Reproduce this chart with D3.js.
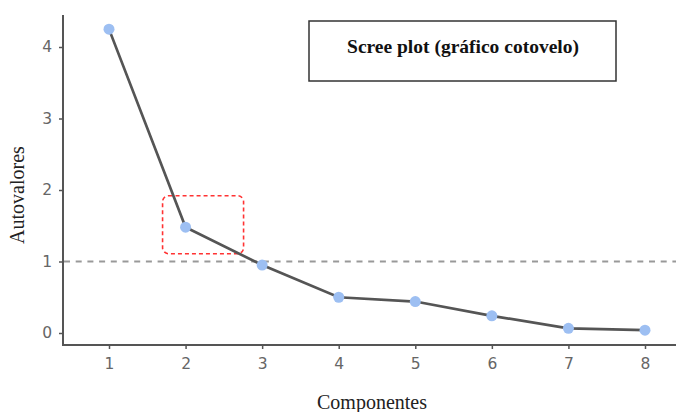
<!DOCTYPE html>
<html>
<head>
<meta charset="utf-8">
<script src="https://cdn.jsdelivr.net/npm/d3@7"></script>
<style>
  body { margin: 0; background: #fff; }
</style>
</head>
<body>
<script>
// scree plot data
var componentes = [1, 2, 3, 4, 5, 6, 7, 8];
var autovalores = [4.25, 1.48, 0.95, 0.50, 0.44, 0.24, 0.065, 0.04];
var yTicks = [0, 1, 2, 3, 4];
var kaiserCut = 1;
var titulo = "Scree plot (gráfico cotovelo)";

var w = 676,
    h = 412;

var svg = d3.select("body").append("svg")
    .attr("width", w)
    .attr("height", h);

var x = d3.scaleLinear().domain([1, 8]).range([109, 645]);
var y = d3.scaleLinear().domain([0, 4]).range([333, 47]);

var axisColor = "#555";

// axis lines
svg.append("line")
    .attr("x1", 63).attr("x2", 63)
    .attr("y1", 15).attr("y2", 345)
    .attr("stroke", axisColor).attr("stroke-width", 2);
svg.append("line")
    .attr("x1", 62).attr("x2", w)
    .attr("y1", 345).attr("y2", 345)
    .attr("stroke", axisColor).attr("stroke-width", 2);

// y axis
var yAxis = svg.append("g")
    .attr("transform", "translate(63,0)")
    .call(d3.axisLeft(y).tickValues(yTicks).tickSize(4).tickPadding(7).tickFormat(d3.format("d")));
yAxis.select(".domain").remove();

// x axis
var xAxis = svg.append("g")
    .attr("transform", "translate(0,345)")
    .call(d3.axisBottom(x).tickValues(componentes).tickSize(4).tickPadding(9).tickFormat(d3.format("d")));
xAxis.select(".domain").remove();

svg.selectAll(".tick line").attr("stroke", axisColor).attr("stroke-width", 1.5);
svg.selectAll(".tick text")
    .attr("fill", "#666")
    .style("font-family", "DejaVu Sans, sans-serif")
    .style("font-size", "15.5px");

// horizontal cut line
svg.append("line")
    .attr("x1", 64).attr("x2", w)
    .attr("y1", y(kaiserCut)).attr("y2", y(kaiserCut))
    .attr("stroke", "#999")
    .attr("stroke-width", 2)
    .attr("stroke-dasharray", "6,5.7");

// highlight box around the elbow
svg.append("rect")
    .attr("x", x(2) - 23).attr("y", y(1.92))
    .attr("width", 81).attr("height", 58)
    .attr("rx", 6).attr("ry", 6)
    .attr("fill", "none")
    .attr("stroke", "#ff3333")
    .attr("stroke-width", 1.6)
    .attr("stroke-dasharray", "4,3");

// line + points
var pts = componentes.map((c, i) => [c, autovalores[i]]);
svg.append("path")
    .datum(pts)
    .attr("d", d3.line().x(d => x(d[0])).y(d => y(d[1])))
    .attr("fill", "none")
    .attr("stroke", "#555")
    .attr("stroke-width", 2.7);

svg.selectAll("circle")
    .data(pts)
    .enter().append("circle")
    .attr("cx", d => x(d[0]))
    .attr("cy", d => y(d[1]))
    .attr("r", 5.5)
    .style("fill", "#9dbff2");

// title box
svg.append("rect")
    .attr("x", 309).attr("y", 21)
    .attr("width", 307).attr("height", 60)
    .attr("fill", "#fff")
    .attr("stroke", "#333")
    .attr("stroke-width", 1.5);
svg.append("text")
    .attr("x", 463).attr("y", 53)
    .attr("text-anchor", "middle")
    .style("font-family", "Liberation Serif, serif")
    .style("font-weight", "bold")
    .style("font-size", "19.5px")
    .attr("fill", "#111")
    .text(titulo);

// axis titles
svg.append("text")
    .attr("transform", "translate(24,195) rotate(-90)")
    .attr("text-anchor", "middle")
    .style("font-family", "Liberation Serif, serif")
    .style("font-size", "20px")
    .attr("fill", "#222")
    .text("Autovalores");
svg.append("text")
    .attr("x", 372).attr("y", 409)
    .attr("text-anchor", "middle")
    .style("font-family", "Liberation Serif, serif")
    .style("font-size", "20px")
    .attr("fill", "#222")
    .text("Componentes");
</script>
</body>
</html>
